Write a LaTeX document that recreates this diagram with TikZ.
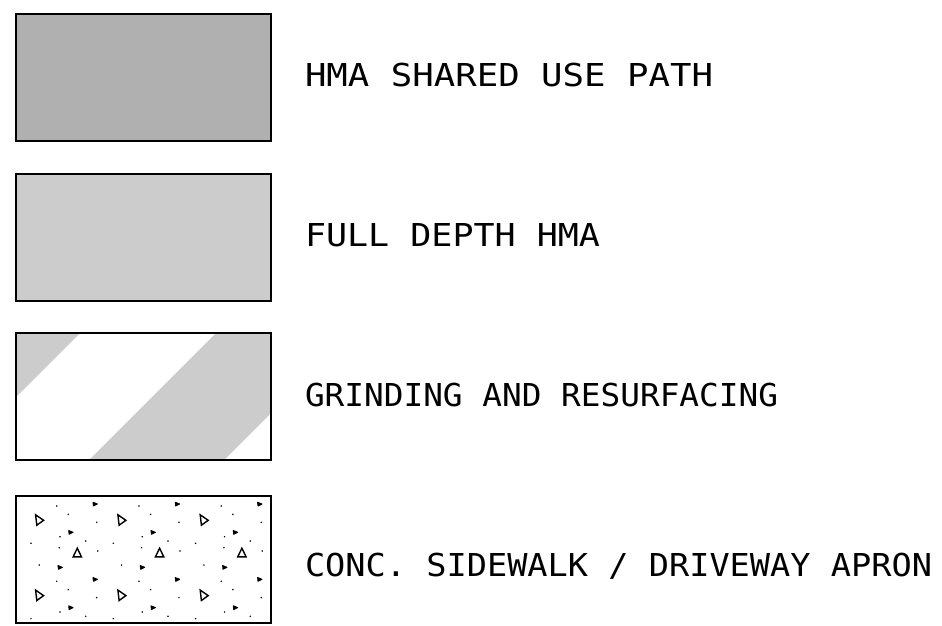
\documentclass[tikz,border=0pt]{standalone}
\usepackage{fontspec}
\newfontfamily\cadfont{DejaVu Sans Mono}
\newcommand\legendtext[2]{\resizebox{#1}{23pt}{\cadfont\rule{0pt}{\fontcharht\font`\H}\smash{#2}}}
\definecolor{darkfill}{gray}{0.69}
\definecolor{lightfill}{gray}{0.80}
\begin{document}
\begin{tikzpicture}[x=1pt,y=-1pt,
  legendbox/.style={draw=black, line width=2.8pt, minimum width=255pt, minimum height=127pt, inner sep=0pt, outer sep=0pt},
  legendlabel/.style={inner sep=0pt, outer sep=0pt, anchor=south west},
  bigtri/.style={draw=black, line width=1.4pt, line join=miter},
  smalltri/.style={draw=black, fill=black, line width=0.9pt, line join=round},
  dotmark/.style={fill=black}]
\useasboundingbox (0,0) rectangle (942,625);

% boxes
\node[legendbox, fill=darkfill] (b1) at (143.5,77.5) {};
\node[legendbox, fill=lightfill] (b2) at (143.5,237.5) {};
\node[legendbox, fill=white] (b3) at (143.5,396.5) {};
\node[legendbox, fill=white] (b4) at (143.5,559.5) {};

% stripes of box 3
\begin{scope}
  \clip (b3.south west) rectangle (b3.north east);
  \fill[lightfill] (-22,300) -- (113,300) -- (-87,500) -- (-222,500) -- cycle;
  \fill[lightfill] (249,300) -- (384,300) -- (184,500) -- (49,500) -- cycle;
\end{scope}
\draw[line width=2.8pt] (b3.south west) rectangle (b3.north east);

% concrete pattern of box 4
\begin{scope}
  \clip (b4.south west) rectangle (b4.north east);
  \foreach \i in {-1,...,3}{
    \foreach \j in {-1,...,2}{
      \begin{scope}[shift={(\i*82.3,\j*75.3)}]
        \draw[bigtri] (35.6,514.8) -- (36.8,525.2) -- (43.6,520.3) -- cycle;
        \draw[bigtri] (73.1,556.9) -- (81.5,556.9) -- (77.3,548.2) -- cycle;
        \foreach \x/\y in {95/504, 70.7/532.3, 60/567.3}{
          \filldraw[smalltri] (\x-2,\y-1.8) -- (\x+2.4,\y) -- (\x-1.6,\y+2) -- cycle;
        }
        \foreach \x/\y in {56.7/506, 68.3/514.3, 96.7/522.3, 60/536.7, 85.7/541,
                           31/543.3, 59.3/547.7, 97.7/551, 39.3/565}{
          \fill[dotmark] (\x,\y) circle (0.85);
        }
      \end{scope}
    }
  }
\end{scope}
\draw[line width=2.8pt] (b4.south west) rectangle (b4.north east);

% labels
\node[legendlabel] (t1) at (305,86) {\legendtext{408pt}{HMA SHARED USE PATH}};
\node[legendlabel] (t2) at (305,246) {\legendtext{295pt}{FULL DEPTH HMA}};
\node[legendlabel] (t3) at (305,406) {\legendtext{473pt}{GRINDING AND RESURFACING}};
\node[legendlabel] (t4) at (305,576) {\legendtext{627pt}{CONC. SIDEWALK / DRIVEWAY APRON}};
\end{tikzpicture}
\end{document}
